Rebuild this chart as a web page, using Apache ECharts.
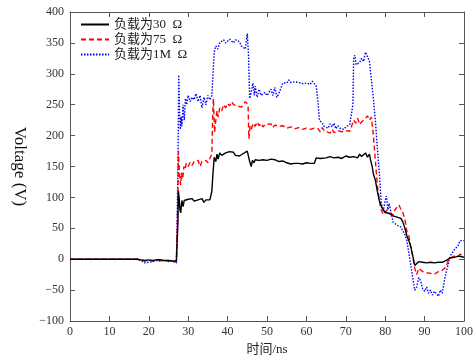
<!DOCTYPE html>
<html><head><meta charset="utf-8">
<script src="https://cdn.jsdelivr.net/npm/echarts@6/dist/echarts.min.js"></script>
<style>html,body{margin:0;padding:0;background:#fff}#c{width:476px;height:361px}</style>
</head><body><div id="c"></div>
<script>
const seriesNames = ['负载为30  Ω', '负载为75  Ω', '负载为1M  Ω'];
const xTicks = [0,10,20,30,40,50,60,70,80,90,100];
const yTicks = [-100,-50,0,50,100,150,200,250,300,350,400];

const tBlack = [0,17,18,19,20,21,22,23,24,25,26,27,27.2,27.4,27.5,27.7,27.9,28.1,28.4,28.7,29,29.5,30,30.5,31,31.5,32,32.5,33,33.5,34,34.5,35,35.5,36,36.3,36.6,37,37.3,37.6,38,38.5,39,39.5,40,40.5,41,41.5,42,42.5,43,43.5,44,44.5,45,45.3,45.6,46,46.3,46.7,47,47.5,48,48.5,49,49.5,50,51,51.5,52,52.5,53,54,55,55.5,56,57,58,59,60,61,62,62.5,63,63.5,64,65,66,67,68,69,70,71,72,73,73.5,74,74.5,75,75.5,76,76.3,76.7,77,77.5,78,78.5,79,79.5,80,80.5,81,81.5,82,82.5,83,83.5,84,84.5,85,85.5,86,86.5,87,87.5,88,88.5,89,89.5,90,90.5,91,91.5,92,92.5,93,93.5,94,94.5,95,95.5,96,96.5,97,97.5,98,98.5,99,99.5,100];
const vBlack = [0,0,-1,-2,-1,-2,-1,-1,-2,-2,-3,-3,-2,60,110,100,80,75,95,85,95,92,97,95,98,94,97,96,95,98,92,96,93,96,110,140,165,158,170,162,172,168,170,172,169,174,171,173,168,170,167,168,171,168,175,172,158,150,160,156,161,158,160,159,161,158,160,162,159,161,163,158,159,156,157,154,155,155,154,156,155,155,164,166,163,165,164,166,164,165,163,167,165,166,164,170,166,168,172,165,170,160,150,138,128,110,95,86,80,76,78,74,72,70,72,68,70,66,60,50,38,30,20,5,-10,-8,-4,-2,-5,-4,-6,-4,-5,-3,-6,-4,-5,-3,-5,-4,-2,0,2,1,3,2,5,3,4,3];

const tRed = [0,17,18,19,20,21,22,23,24,25,26,27,27.2,27.4,27.5,27.7,27.9,28.1,28.3,28.6,28.9,29.2,29.5,30,30.5,31,31.5,32,32.5,33,33.5,34,34.5,35,35.5,36,36.2,36.4,36.7,37,37.3,37.6,38,38.5,39,39.5,40,40.5,41,41.5,42,42.5,43,43.5,44,44.5,45,45.2,45.4,45.7,46,46.5,47,47.5,48,48.5,49,49.5,50,51,51.5,52,53,53.5,54,55,56,57,58,59,60,61,62,63,63.5,64,64.5,65,66,66.5,67,68,69,70,71,71.5,72,72.5,73,73.5,74,74.5,75,75.5,76,76.5,77,77.5,78,78.5,79,79.5,80,80.5,81,81.5,82,82.5,83,83.5,84,84.5,85,85.5,86,86.5,87,87.5,88,88.5,89,89.5,90,90.5,91,91.5,92,92.5,93,93.5,94,94.5,95,95.5,96,96.5,97,97.5,98,98.5,99,99.5,100];
const vRed = [0,0,-1,-3,-2,-3,-1,-2,-3,-2,-4,-4,-3,100,175,150,130,120,140,130,150,145,155,150,157,152,158,155,160,150,158,155,160,156,158,170,230,260,205,225,240,230,245,240,250,245,252,248,255,250,252,248,250,246,250,255,258,250,195,215,210,220,215,222,216,220,214,218,215,219,213,217,215,212,216,212,214,211,213,210,212,210,212,211,206,213,208,210,204,210,205,208,206,208,207,210,225,220,228,218,222,220,228,232,225,230,200,160,120,95,80,72,76,80,75,78,72,80,82,88,80,75,65,45,38,20,5,-15,-25,-15,-18,-20,-18,-22,-20,-23,-21,-24,-22,-20,-23,-18,-20,-12,-2,2,3,5,6,4,8,5,5];

const tBlue = [0,17,18,19,19.5,20,20.5,21,22,23,24,25,26,27,27.2,27.4,27.6,27.8,28,28.2,28.4,28.7,29,29.3,29.6,30,30.5,31,31.5,32,32.5,33,33.5,34,34.5,35,35.5,36,36.3,36.6,37,37.5,38,38.5,39,39.5,40,40.5,41,41.5,42,42.5,43,43.5,44,44.5,45,45.3,45.6,46,46.4,46.8,47,47.5,48,48.5,49,49.5,50,50.5,51,51.5,52,52.5,53,53.5,54,54.5,55,55.5,56,56.5,57,57.5,58,59,60,61,61.5,62,62.5,63,63.3,63.6,64,64.5,65,65.5,66,66.5,67,67.5,68,68.5,69,69.5,70,70.5,71,71.5,71.8,72,72.3,72.6,73,73.5,74,74.5,75,75.5,76,76.5,77,77.5,78,78.5,79,79.5,80,80.3,80.7,81,81.5,82,82.5,83,83.5,84,84.5,85,85.5,86,86.5,87,87.5,88,88.5,89,89.5,90,90.5,91,91.5,92,92.5,93,93.5,94,94.5,95,95.5,96,96.5,97,97.5,98,98.5,99,99.5,100];
const vBlue = [0,0,-2,-6,-3,-5,-2,-4,-2,-3,-2,-4,-3,-6,-4,150,298,240,210,230,215,250,225,260,250,265,255,262,258,268,255,265,245,262,250,265,258,265,300,335,345,340,350,348,355,350,352,356,355,350,355,352,352,345,348,340,365,330,260,270,285,265,280,262,275,265,262,270,265,263,275,265,278,262,268,270,285,288,285,290,286,285,287,284,286,284,285,283,288,285,280,250,225,222,220,215,218,212,219,214,220,211,216,212,215,210,214,212,218,215,250,325,330,315,312,318,325,320,335,328,320,290,260,225,180,140,90,78,95,102,80,90,75,60,62,55,58,52,45,40,30,10,-10,-30,-50,-45,-30,-35,-48,-52,-45,-55,-50,-58,-52,-55,-60,-50,-55,-35,-20,-8,5,8,15,12,22,30,32,30];

function zip(t, v) { return t.map((x, i) => [x, v[i]]); }

const FONT = '"Liberation Serif", "Noto Sans CJK SC", serif';
const chart = echarts.init(document.getElementById('c'));
const axisLine = {show: true, onZero: false, lineStyle: {color: '#555', width: 1}};
const tick = {show: true, inside: true, length: 5, lineStyle: {color: '#555'}};
chart.setOption({
  animation: false,
  backgroundColor: '#fff',
  grid: {left: 70, right: 10, top: 12, bottom: 34},
  legend: {
    orient: 'vertical', left: 75, top: 13, itemWidth: 28, itemHeight: 10, itemGap: 2,
    itemStyle: {opacity: 0},
    textStyle: {fontFamily: FONT, fontSize: 13, color: '#222'},
    data: seriesNames
  },
  xAxis: [{
    type: 'value', min: 0, max: 100, interval: 10,
    name: '时间/ns', nameLocation: 'middle', nameGap: 22,
    nameTextStyle: {fontFamily: FONT, fontSize: 13, color: '#222'},
    axisLine, axisTick: tick, splitLine: {show: false},
    axisLabel: {fontFamily: FONT, fontSize: 12, color: '#333', margin: 5, formatter: v => xTicks.includes(v) ? String(v) : ''}
  }, {
    type: 'value', min: 0, max: 100, interval: 10, position: 'top',
    axisLine, axisTick: tick, axisLabel: {show: false}, splitLine: {show: false}
  }],
  yAxis: [{
    type: 'value', min: -100, max: 400, interval: 50,
    name: 'Voltage (V)', nameLocation: 'middle', nameGap: 38, nameRotate: -90,
    nameTextStyle: {fontFamily: FONT, fontSize: 17, color: '#111'},
    axisLine, axisTick: tick, splitLine: {show: false},
    axisLabel: {fontFamily: FONT, fontSize: 12, color: '#333', margin: 6, formatter: v => yTicks.includes(v) ? (v < 0 ? '\u2212' + (-v) : String(v)) : ''}
  }, {
    type: 'value', min: -100, max: 400, interval: 50, position: 'right',
    axisLine, axisTick: tick, axisLabel: {show: false}, splitLine: {show: false}
  }],
  series: [
    {name: seriesNames[0], type: 'line', data: zip(tBlack, vBlack), showSymbol: false, symbol: 'none', z: 4,
     lineStyle: {color: '#000', width: 1.4, type: 'solid'}, itemStyle: {color: '#000'}},
    {name: seriesNames[1], type: 'line', data: zip(tRed, vRed), showSymbol: false, symbol: 'none', z: 3,
     lineStyle: {color: '#ff0000', width: 1.4, type: [5, 3]}, itemStyle: {color: '#ff0000'}},
    {name: seriesNames[2], type: 'line', data: zip(tBlue, vBlue), showSymbol: false, symbol: 'none', z: 2,
     lineStyle: {color: '#0000ff', width: 1.4, type: [1.5, 1.5]}, itemStyle: {color: '#0000ff'}}
  ]
});
</script></body></html>
